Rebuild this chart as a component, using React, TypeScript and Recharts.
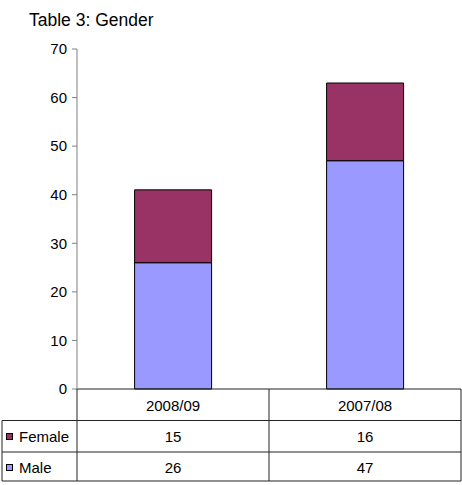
import * as React from 'react';
import { BarChart, Bar, XAxis, YAxis } from 'recharts';

const categories = ['2008/09', '2007/08'];
const maleValues = [26, 47];
const femaleValues = [15, 16];
const yTicks = [0, 10, 20, 30, 40, 50, 60, 70];

const MALE_COLOR = '#9999FF';
const FEMALE_COLOR = '#993366';
const FONT = '"Liberation Sans", Arial, sans-serif';
const FS = 15;

const data = categories.map((name, i) => ({ name, male: maleValues[i], female: femaleValues[i] }));

// layout of the data table under the plot
const W = 462;
const H = 485;
const PLOT_LEFT = 77;
const PLOT_RIGHT = 461;
const PLOT_TOP = 49;
const PLOT_BOTTOM = 389;
const ROW1 = 420.5;
const ROW2 = 452;
const ROW3 = 481;
const TABLE_LEFT = 2;
const LINE = '#222';

function TableTick(props: any) {
  const { x, payload } = props;
  const i = payload.index;
  const half = (PLOT_RIGHT - PLOT_LEFT) / categories.length / 2;
  const right = x + half;
  return (
    <g>
      {i === 0 && (
        <g>
          <line x1={TABLE_LEFT} x2={PLOT_RIGHT} y1={ROW1} y2={ROW1} stroke={LINE} />
          <line x1={TABLE_LEFT} x2={PLOT_RIGHT} y1={ROW2} y2={ROW2} stroke={LINE} />
          <line x1={TABLE_LEFT} x2={PLOT_RIGHT} y1={ROW3} y2={ROW3} stroke={LINE} />
          <line x1={TABLE_LEFT} x2={TABLE_LEFT} y1={ROW1} y2={ROW3} stroke={LINE} />
          <line x1={PLOT_LEFT} x2={PLOT_LEFT} y1={PLOT_BOTTOM} y2={ROW3} stroke={LINE} />
          <rect x={6.5} y={433.5} width={6} height={6} fill={FEMALE_COLOR} stroke="#000" />
          <text x={19} y={442} fontSize={FS} fontFamily={FONT} fill="#000">Female</text>
          <rect x={6.5} y={464.5} width={6} height={6} fill={MALE_COLOR} stroke="#000" />
          <text x={19} y={472.5} fontSize={FS} fontFamily={FONT} fill="#000">Male</text>
        </g>
      )}
      <line x1={right} x2={right} y1={PLOT_BOTTOM} y2={ROW3} stroke={LINE} />
      <text x={x} y={410.5} textAnchor="middle" fontSize={FS} fontFamily={FONT} fill="#000">
        {payload.value}
      </text>
      <text x={x} y={442} textAnchor="middle" fontSize={FS} fontFamily={FONT} fill="#000">
        {femaleValues[i]}
      </text>
      <text x={x} y={472.5} textAnchor="middle" fontSize={FS} fontFamily={FONT} fill="#000">
        {maleValues[i]}
      </text>
    </g>
  );
}

export default function App() {
  return (
    <div style={{ position: 'absolute', left: 0, top: 0, width: W, height: H, background: '#fff' }}>
      <BarChart
        width={W}
        height={H}
        data={data}
        margin={{ top: PLOT_TOP, right: W - PLOT_RIGHT, left: PLOT_LEFT - 40, bottom: H - PLOT_BOTTOM - 31 }}
        barCategoryGap="30%"
      >
        <XAxis
          dataKey="name"
          height={31}
          axisLine={{ stroke: LINE }}
          tickLine={false}
          tick={<TableTick />}
          interval={0}
        />
        <YAxis
          width={40}
          domain={[0, 70]}
          ticks={yTicks}
          interval={0}
          axisLine={{ stroke: '#808080' }}
          tickLine={{ stroke: '#808080' }}
          tickSize={5}
          tickMargin={5}
          tick={{ fontSize: FS, fontFamily: FONT, fill: '#000' }}
        />
        <Bar dataKey="male" stackId="a" fill={MALE_COLOR} stroke="#000" strokeWidth={1} isAnimationActive={false} />
        <Bar dataKey="female" stackId="a" fill={FEMALE_COLOR} stroke="#000" strokeWidth={1} isAnimationActive={false} />
      </BarChart>
      <div
        style={{
          position: 'absolute',
          left: 29,
          top: 11,
          fontFamily: FONT,
          fontSize: 17.5,
          lineHeight: '18px',
          color: '#000',
        }}
      >
        Table 3: Gender
      </div>
    </div>
  );
}
